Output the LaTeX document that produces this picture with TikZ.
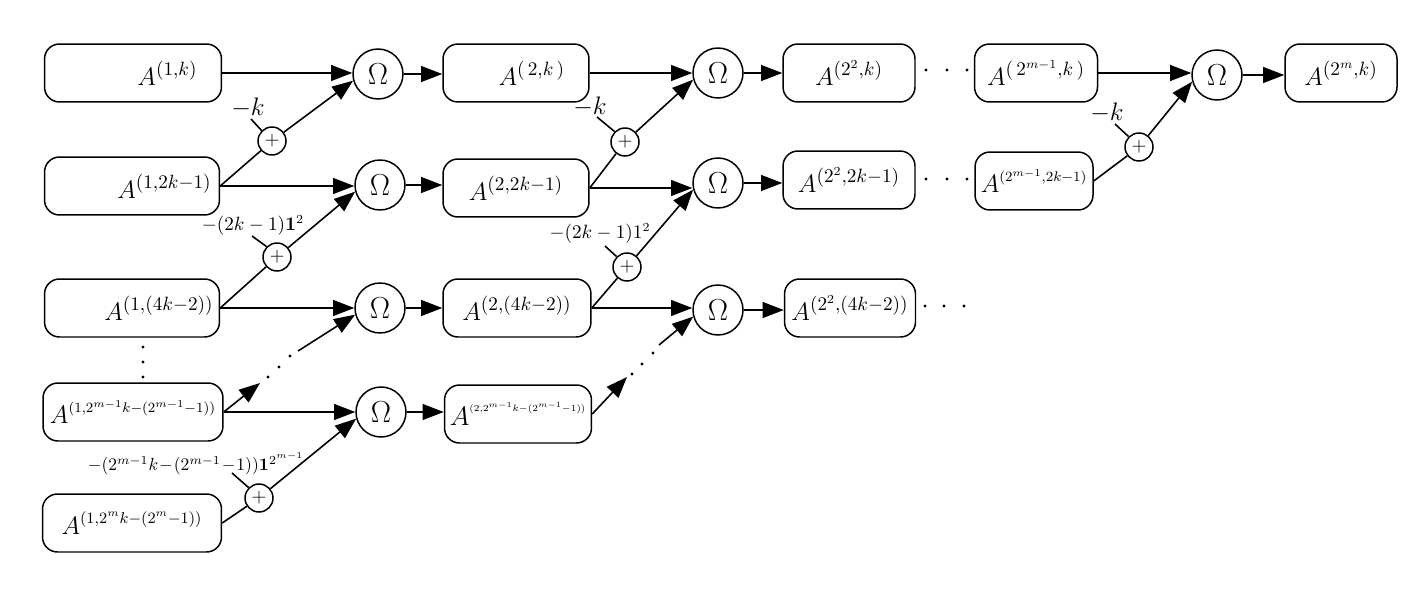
\documentclass[tikz,border=0pt]{standalone}
\usetikzlibrary{arrows.meta}
\newcommand{\Ab}{\mbox{\fontsize{15}{17}\selectfont$A$}}
\newcommand{\Abb}{\mbox{\fontsize{16.5}{18}\selectfont$A$}}
\begin{document}
\begin{tikzpicture}[x=0.02cm,y=-0.02cm,
  every node/.style={inner sep=0pt},
  box/.style={draw, line width=0.85pt, rounded corners=0.3cm, minimum height=1.16cm, inner xsep=0.1cm, font=\fontsize{15}{17}\selectfont},
  om/.style={draw, circle, line width=0.85pt, minimum size=1cm, inner sep=0pt, font=\fontsize{18}{20}\selectfont},
  pl/.style={draw, circle, line width=0.85pt, minimum size=0.56cm, inner sep=0pt, font=\fontsize{11}{12}\selectfont},
  arr/.style={line width=0.9pt, -{Triangle[length=12pt,width=9pt]}},
  con/.style={line width=0.9pt},
  lab/.style={font=\fontsize{14}{16}\selectfont},
  slab/.style={font=\fontsize{10.5}{12}\selectfont},
  dot/.style={fill=black}
]
\useasboundingbox (0,0) rectangle (1419,588);

% column 1 boxes
\node[box, minimum width=3.54cm, inner xsep=0.48cm, text width=2.58cm, align=right] (b11) at (133,73) {$\Ab^{(1,k)}$};
\node[box, minimum width=3.5cm, inner xsep=0.16cm, text width=3.18cm, align=right] (b21) at (132,186) {$\Ab^{(1,2k-1)}$};
\node[box, minimum width=3.5cm, inner xsep=0.12cm, text width=3.26cm, align=right] (b31) at (132,308) {$\Ab^{(1,(4k-2))}$};
\node[box, minimum width=3.6cm, font=\fontsize{12}{14}\selectfont] (b41) at (133,412) {$\Ab^{(1,2^{m-1}k-(2^{m-1}-1))}$};
\node[box, minimum width=3.58cm, font=\fontsize{13}{15}\selectfont] (b51) at (132,523) {$\Ab^{(1,2^{m}k-(2^{m}-1))}$};

% column 2 boxes
\node[box, minimum width=2.92cm, inner xsep=0.48cm, text width=1.96cm, align=right] (b12) at (516,73) {$\Ab^{(\,2,k\,)}$};
\node[box, minimum width=2.92cm] (b22) at (516,188) {$\Ab^{(2,2k-1)}$};
\node[box, minimum width=2.96cm] (b32) at (517,308) {$\Ab^{(2,(4k-2))}$};
\node[box, minimum width=2.94cm, font=\fontsize{8}{10}\selectfont] (b42) at (518,414) {\scalebox{0.88}{$\Abb^{(2,2^{m-1}k-(2^{m-1}-1))}$}};

% column 3 boxes
\node[box, minimum width=2.64cm] (b13) at (849,73) {$\Ab^{(2^2,k)}$};
\node[box, minimum width=2.64cm] (b23) at (849,180) {$\Ab^{(2^2,2k-1)}$};
\node[box, minimum width=2.62cm] (b33) at (850,308) {$\Ab^{(2^2,(4k-2))}$};

% column 4 and 5 boxes
\node[box, minimum width=2.46cm] (b14) at (1036,73) {$\Ab^{(\,2^{m-1},k\,)}$};
\node[box, minimum width=2.36cm, font=\fontsize{12}{14}\selectfont] (b24) at (1034,181) {$\Ab^{(2^{m-1},2k-1)}$};
\node[box, minimum width=2.24cm] (b15) at (1341,73) {$\Ab^{(2^m,k)}$};

% Omega nodes
\node[om] (o11) at (378,74) {$\Omega$};
\node[om] (o21) at (380,185) {$\Omega$};
\node[om] (o31) at (380,308) {$\Omega$};
\node[om] (o41) at (381,412) {$\Omega$};
\node[om] (o12) at (718,73) {$\Omega$};
\node[om] (o22) at (718,183) {$\Omega$};
\node[om] (o32) at (718,310) {$\Omega$};
\node[om] (o13) at (1217,75) {$\Omega$};

% plus nodes
\node[pl] (p1) at (272,141) {$+$};
\node[pl] (p2) at (277,257) {$+$};
\node[pl] (p3) at (259,498) {$+$};
\node[pl] (p4) at (625,142) {$+$};
\node[pl] (p5) at (627,267) {$+$};
\node[pl] (p6) at (1139,147) {$+$};

% labels
\node[lab] (lk1) at (248,108) {$-k$};
\node[lab] (lk4) at (590,107) {$-k$};
\node[lab] (lk6) at (1107,113) {$-k$};
\node[slab] (l2) at (253,225) {$-(2k-1)\mathbf{1}^2$};
\node[slab] (l5) at (600,233) {$-(2k-1)1^2$};
\node[slab, font=\fontsize{10}{12}\selectfont] (l3) at (196,464) {$\medmuskip=1mu -(2^{m-1}k-(2^{m-1}-1))\mathbf{1}^{2^{m-1}}$};

% tick coordinates
\coordinate (t1) at (251,119);
\coordinate (t4) at (597,117);
\coordinate (t6) at (1115,124);
\coordinate (t2) at (252,236);
\coordinate (t5) at (605,246);
\coordinate (t3) at (232,473);
\draw[con] (t1) -- (p1.135);
\draw[con] (t4) -- (p4.135);
\draw[con] (t6) -- (p6.135);
\draw[con] (t2) -- (p2.135);
\draw[con] (t5) -- (p5.135);
\draw[con] (t3) -- (p3.135);

% column 1 -> Omega column 1
\draw[arr] (b11.east) -- (b11.east -| o11.west);
\draw[arr] (b21.east) -- (b21.east -| o21.west);
\draw[arr] (b31.east) -- (b31.east -| o31.west);
\draw[arr] (b41.east) -- (b41.east -| o41.west);
\draw[con] (b21.east) -- (p1);
\draw[arr] (p1) -- (o11.195);
\draw[con] (b31.east) -- (p2);
\draw[arr] (p2) -- (o21.195);
\draw[con] (b51.east) -- (p3);
\draw[arr] (p3) -- (o41.195);

% broken connector column 1
\coordinate (c1) at (260,383);
\coordinate (c2) at (298,351);
\draw[arr] (b41.east) -- (c1);
\draw[arr] (c2) -- (o31.195);
\fill[dot] (268,377) circle (0.032cm);
\fill[dot] (279,367) circle (0.032cm);
\fill[dot] (290,356) circle (0.032cm);

% Omega column 1 -> column 2 boxes
\draw[arr] (o11.east) -- (o11.east -| b12.west);
\draw[arr] (o21.east) -- (o21.east -| b22.west);
\draw[arr] (o31.east) -- (o31.east -| b32.west);
\draw[arr] (o41.east) -- (o41.east -| b42.west);

% column 2 -> Omega column 2
\draw[arr] (b12.east) -- (b12.east -| o12.west);
\draw[arr] (b22.east) -- (b22.east -| o22.west);
\draw[arr] (b32.east) -- (b32.east -| o32.west);
\draw[con] (b22.east) -- (p4);
\draw[arr] (p4) -- (o12.195);
\draw[con] (b32.east) -- (p5);
\draw[arr] (p5) -- (o22.195);

% broken connector column 2
\coordinate (c3) at (627,377);
\coordinate (c4) at (659,345);
\draw[arr] (b42.east) -- (c3);
\draw[arr] (c4) -- (o32.195);
\fill[dot] (632,374) circle (0.032cm);
\fill[dot] (642,364) circle (0.032cm);
\fill[dot] (653,353) circle (0.032cm);

% Omega column 2 -> column 3 boxes
\draw[arr] (o12.east) -- (o12.east -| b13.west);
\draw[arr] (o22.east) -- (o22.east -| b23.west);
\draw[arr] (o32.east) -- (o32.east -| b33.west);

% last stage
\draw[arr] (b14.east) -- (b14.east -| o13.west);
\draw[con] (b24.east) -- (p6);
\draw[arr] (p6) -- (o13.195);
\draw[arr] (o13.east) -- (o13.east -| b15.west);

% continuation dots
\foreach \x in {926,947,967} {
  \fill[dot] (\x,70) circle (0.032cm);
  \fill[dot] (\x,179) circle (0.032cm);
}
\foreach \x in {925,944,964} {
  \fill[dot] (\x,306) circle (0.032cm);
}
\foreach \y in {347,362,377} {
  \fill[dot] (143,\y) circle (0.032cm);
}
\end{tikzpicture}
\end{document}
